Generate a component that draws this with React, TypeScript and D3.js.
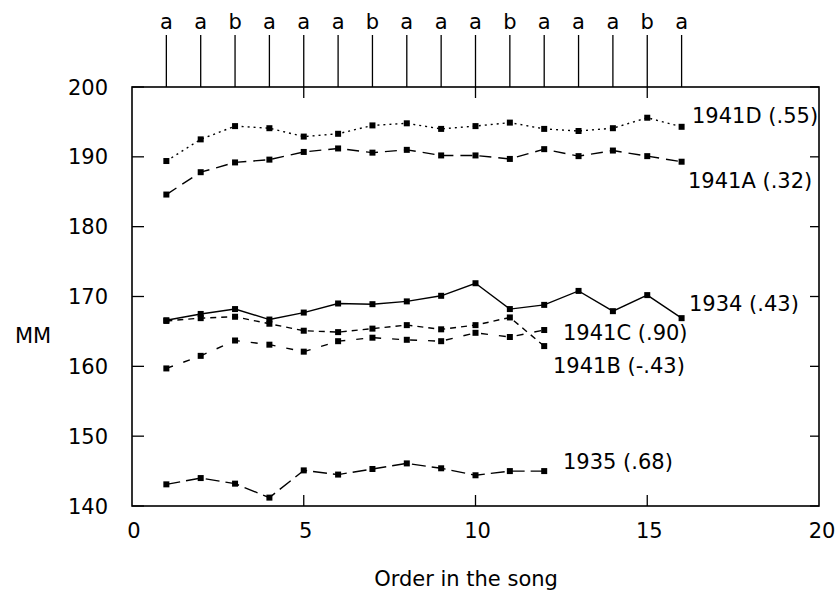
import React from "react";
import * as d3 from "d3";

// order in the song (1..16) and the song-type letters drawn above the plot
const order = d3.range(1, 17);
const songTypes = ["a", "a", "b", "a", "a", "a", "b", "a", "a", "a", "b", "a", "a", "a", "b", "a"];

// MM values per series
const s1941D = [189.4, 192.5, 194.4, 194.1, 192.9, 193.3, 194.5, 194.8, 194.0, 194.4, 194.9, 194.0, 193.7, 194.1, 195.6, 194.3];
const s1941A = [184.6, 187.8, 189.2, 189.6, 190.7, 191.2, 190.6, 191.0, 190.2, 190.2, 189.7, 191.1, 190.1, 190.9, 190.1, 189.3];
const s1934 = [166.6, 167.5, 168.2, 166.7, 167.7, 169.0, 168.9, 169.3, 170.1, 171.9, 168.2, 168.8, 170.8, 167.9, 170.2, 166.9];
const s1941C = [159.7, 161.5, 163.7, 163.1, 162.1, 163.6, 164.1, 163.8, 163.6, 164.8, 164.2, 165.2];
const s1941B = [166.5, 166.9, 167.1, 166.1, 165.1, 164.9, 165.4, 165.9, 165.3, 165.9, 167.0, 162.9];
const s1935 = [143.1, 144.0, 143.2, 141.2, 145.1, 144.5, 145.3, 146.1, 145.4, 144.4, 145.0, 145.0];

const xTicks = [0, 5, 10, 15, 20];
const yTicks = [140, 150, 160, 170, 180, 190, 200];

const series = [
  { name: "1941D (.55)", values: s1941D, dash: "2,4", lx: 692, ly: 123 },
  { name: "1941A (.32)", values: s1941A, dash: "12,7", lx: 688, ly: 188 },
  { name: "1934 (.43)", values: s1934, dash: null, lx: 689, ly: 311 },
  { name: "1941C (.90)", values: s1941C, dash: "7,11", lx: 563, ly: 340 },
  { name: "1941B (-.43)", values: s1941B, dash: "6,5", lx: 553, ly: 373 },
  { name: "1935 (.68)", values: s1935, dash: "14,6", lx: 563, ly: 469 },
];

const FONT = "DejaVu Sans";

export default function App() {
  const width = 836;
  const height = 591;
  const x = d3.scaleLinear().domain([0, 20]).range([132, 819]);
  const y = d3.scaleLinear().domain([140, 200]).range([506, 87]);
  const top = y(200);
  const bottom = y(140);

  const line = d3.line<number>()
    .x((d, i) => x(order[i]))
    .y(d => y(d));

  return (
    <svg width={width} height={height} style={{ position: "absolute", left: 0, top: 0, background: "#fff" }}
      fontFamily={FONT} fontSize={21}>
      {/* plot frame */}
      <rect x={x(0)} y={top} width={x(20) - x(0)} height={bottom - top} fill="none" stroke="#000" strokeWidth={1.6} />

      {/* y ticks, inward on both sides */}
      {yTicks.map(t => (
        <g key={"y" + t}>
          <line x1={x(0)} x2={x(0) + 12} y1={y(t)} y2={y(t)} stroke="#000" strokeWidth={1.3} />
          <line x1={x(20)} x2={x(20) - 9} y1={y(t)} y2={y(t)} stroke="#000" strokeWidth={1.3} />
          <text x={108} y={y(t) + 7.6} textAnchor="end">{t}</text>
        </g>
      ))}

      {/* x ticks */}
      {xTicks.map(t => (
        <g key={"x" + t}>
          {t > 0 && t < 20 && (
            <>
              <line x1={x(t)} x2={x(t)} y1={bottom} y2={bottom - 11} stroke="#000" strokeWidth={1.3} />
              <line x1={x(t)} x2={x(t)} y1={top} y2={top + 11} stroke="#000" strokeWidth={1.3} />
            </>
          )}
          <text x={x(t) + (t === 20 ? 3 : 2)} y={538} textAnchor="middle">{t}</text>
        </g>
      ))}

      {/* song type markers along the top */}
      {order.map((o, i) => (
        <g key={"o" + o}>
          <line x1={x(o)} x2={x(o)} y1={35} y2={top} stroke="#000" strokeWidth={1.3} />
          <text x={x(o)} y={29} textAnchor="middle">{songTypes[i]}</text>
        </g>
      ))}

      {/* series */}
      {series.map(s => (
        <g key={s.name}>
          <path d={line(s.values) || ""} fill="none" stroke="#000" strokeWidth={1.4}
            strokeDasharray={s.dash || undefined} />
          {s.values.map((v, i) => (
            <rect key={i} x={x(order[i]) - 3} y={y(v) - 3} width={6} height={6} fill="#000" />
          ))}
          <text x={s.lx} y={s.ly}>{s.name}</text>
        </g>
      ))}

      <text x={15} y={343}>MM</text>
      <text x={466} y={586} textAnchor="middle">Order in the song</text>
    </svg>
  );
}
